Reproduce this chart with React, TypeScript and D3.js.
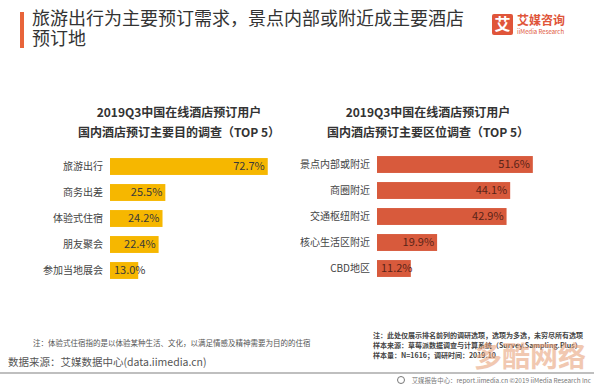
import * as d3 from 'd3';
import React from 'react';

const purposeCats = ['旅游出行', '商务出差', '体验式住宿', '朋友聚会', '参加当地展会'];
const purposeVals = [72.7, 25.5, 24.2, 22.4, 13.0];

const locationCats = ['景点内部或附近', '商圈附近', '交通枢纽附近', '核心生活区附近', 'CBD地区'];
const locationVals = [51.6, 44.1, 42.9, 19.9, 11.2];

const titleLines = ['旅游出行为主要预订需求，景点内部或附近成主要酒店', '预订地'];
const leftSub = ['2019Q3中国在线酒店预订用户', '国内酒店预订主要目的调查（TOP 5）'];
const rightSub = ['2019Q3中国在线酒店预订用户', '国内酒店预订主要区位调查（TOP 5）'];
const rightNotes = [
  '注：此处仅展示排名前列的调研选项，选项为多选，未穷尽所有选项',
  '样本来源：草莓派数据调查与计算系统（Survey.Sampling.Plus）',
  '样本量：N=1616；调研时间：2019.10',
];

const FONT = '"Noto Sans CJK SC", "Noto Sans", sans-serif';

function BarPanel(props: {
  cats: string[];
  vals: number[];
  x0: number;
  pxPerPct: number;
  y0: number;
  color: string;
  valColor: string;
  sub: string[];
  subX: number;
}) {
  const { cats, vals, x0, pxPerPct, y0, color, valColor, sub, subX } = props;
  const x = d3.scaleLinear().domain([0, 100]).range([x0, x0 + pxPerPct * 100]);
  const y = d3.scaleBand<string>().domain(cats).range([y0, y0 + 130]).paddingInner(0.35).paddingOuter(0.175);
  return (
    <g>
      {sub.map((s, i) => (
        <text key={s} x={subX} y={117 + i * 20} textAnchor="middle" fontSize={12} fontWeight="bold" fill="#333">
          {s}
        </text>
      ))}
      {cats.map((c, i) => {
        const w = x(vals[i]) - x(0);
        const cy = (y(c) as number) + y.bandwidth() / 2;
        // short bars: the value starts just inside the bar and may run past its end
        const inside = w >= 38;
        return (
          <g key={c}>
            <text x={x0 - 7} y={cy} dy="0.35em" textAnchor="end" fontSize={10} fill="#444">
              {c}
            </text>
            <rect x={x(0)} y={y(c)} width={w} height={y.bandwidth()} fill={color} />
            <text
              x={inside ? x(vals[i]) - 3 : x(0) + 4}
              y={cy}
              dy="0.35em"
              textAnchor={inside ? 'end' : 'start'}
              fontSize={11}
              fill={valColor}
            >
              {vals[i].toFixed(1) + '%'}
            </text>
          </g>
        );
      })}
    </g>
  );
}

export default function App() {
  return (
    <svg
      width={594}
      height={384}
      style={{ position: 'absolute', left: 0, top: 0, background: '#fff' }}
      fontFamily={FONT}
    >
      <rect x={0} y={0} width={594} height={384} fill="#fff" />
      {/* title */}
      <rect x={20} y={12} width={4} height={36} fill="#E8643A" />
      {titleLines.map((t, i) => (
        <text key={t} x={32} y={25 + i * 20} fontSize={18} fill="#333">
          {t}
        </text>
      ))}
      {/* logo */}
      <rect x={492} y={14} width={21} height={21} rx={2} fill="#E0553A" />
      <text x={502.5} y={30} textAnchor="middle" fontSize={16} fontWeight="bold" fill="#fff">
        艾
      </text>
      <text x={517} y={25} fontSize={12} fontWeight="bold" fill="#E0553A">
        艾媒咨询
      </text>
      <text x={517} y={34} fontSize={6} fill="#E0553A">
        iiMedia Research
      </text>

      <BarPanel
        cats={purposeCats}
        vals={purposeVals}
        x0={110}
        pxPerPct={2.17}
        y0={153.5}
        color="#F6B700"
        valColor="#3a3a3a"
        sub={leftSub}
        subX={179}
      />
      <BarPanel
        cats={locationCats}
        vals={locationVals}
        x0={377}
        pxPerPct={3.02}
        y0={151.5}
        color="#D85A3C"
        valColor="#5a2418"
        sub={rightSub}
        subX={428}
      />

      {/* notes */}
      <text x={33} y={346} fontSize={7.5} fill="#555">
        注：体验式住宿指的是以体验某种生活、文化，以满足情感及精神需要为目的的住宿
      </text>
      <text x={8} y={366} fontSize={10.5} fill="#555">
        数据来源：艾媒数据中心(data.iimedia.cn)
      </text>
      {rightNotes.map((t, i) => (
        <text key={t} x={373} y={338 + i * 10} fontSize={7} fontWeight="bold" fill="#444">
          {t}
        </text>
      ))}
      <text x={474} y={367} fontSize={28} fontWeight="bold" fill="#E9A57E" opacity={0.6}>
        多酷网络
      </text>
      <line x1={0} x2={594} y1={373} y2={373} stroke="#aaa" strokeWidth={1.5} />
      <circle cx={401} cy={380} r={3.5} fill="none" stroke="#777" strokeWidth={1} />
      <text x={591} y={383} textAnchor="end" fontSize={6.4} fill="#777">
        艾媒报告中心：report.iimedia.cn  ©2019  iiMedia Research Inc
      </text>
    </svg>
  );
}
